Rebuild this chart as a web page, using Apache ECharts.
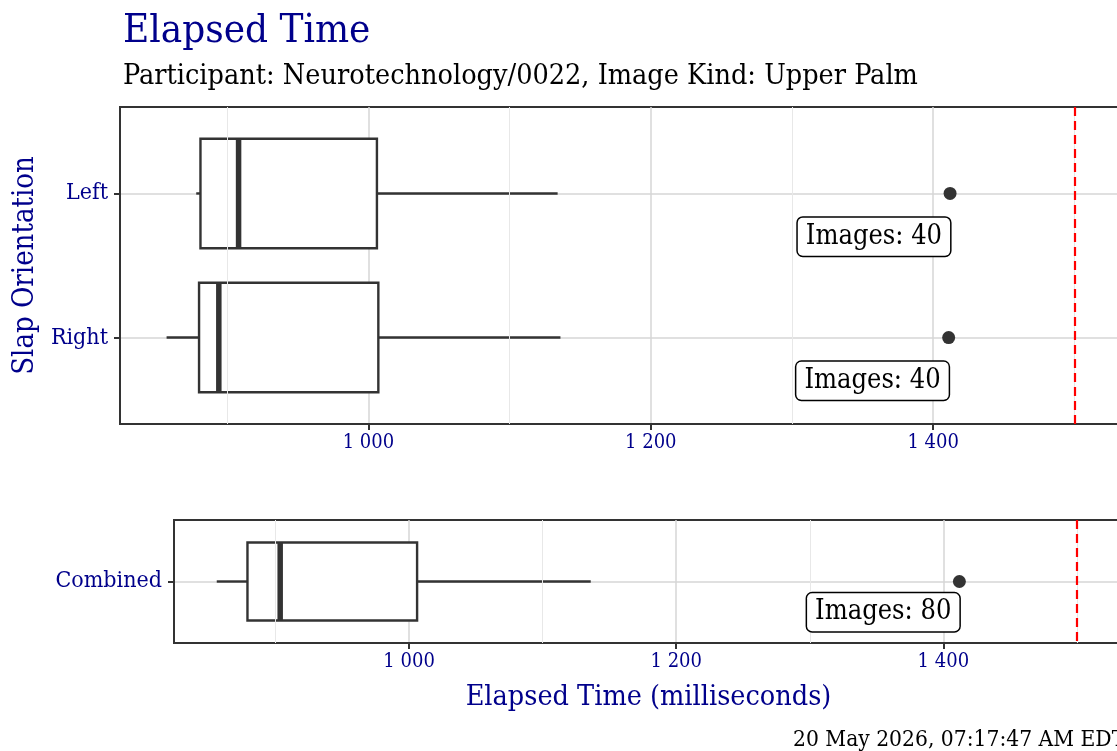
<!DOCTYPE html>
<html lang="en">
<head>
<meta charset="UTF-8">
<title>Elapsed Time</title>
<script src="https://cdn.jsdelivr.net/npm/echarts@6/dist/echarts.min.js"></script>
</head>
<body style="margin:0;background:#fff;overflow:hidden">
<!-- the panel runs a little past the right edge of the window, as in the original -->
<div id="container" style="width:1130px;height:751px"></div>
<script>
// data
const orientations = ['Left', 'Right'];
const combinedLabel = ['Combined'];
// lower whisker, Q1, median, Q3, upper whisker (ms)
const leftStats = [878, 881, 908, 1006, 1134];
const rightStats = [857, 880, 894, 1007, 1136];
const combinedStats = [856, 879, 903.5, 1006, 1136];
const leftOutliers = [1412];
const rightOutliers = [1411];
const combinedOutliers = [1412];
const imageCounts = [40, 40];
const combinedCount = [80];
const xTicks = [1000, 1200, 1400];
const xMinorTicks = [900, 1100, 1300, 1500];
const threshold = 1500;
const xMin = 824, xMax = 1534.5;

const FONT = "'DejaVu Serif Condensed', 'DejaVu Serif', serif";
const BLUE = '#00008B';
const INK = '#333333';

function fmt(v) {
    return String(v).replace(/\B(?=(\d{3})+(?!\d))/g, ' ');
}

function renderBox(params, api) {
    const y = api.value(0);
    const lo = api.coord([api.value(1), y]);
    const q1 = api.coord([api.value(2), y]);
    const med = api.coord([api.value(3), y]);
    const q3 = api.coord([api.value(4), y]);
    const hi = api.coord([api.value(5), y]);
    const h = Math.abs(api.size([0, 0.76])[1]);
    const top = lo[1] - h / 2;
    const stroke = {stroke: INK, lineWidth: 2.4};
    return {
        type: 'group',
        children: [
            {type: 'line', shape: {x1: lo[0], y1: lo[1], x2: q1[0], y2: lo[1]}, style: stroke},
            {type: 'line', shape: {x1: q3[0], y1: lo[1], x2: hi[0], y2: lo[1]}, style: stroke},
            {type: 'rect', shape: {x: q1[0], y: top, width: q3[0] - q1[0], height: h},
                style: {fill: '#fff', stroke: INK, lineWidth: 2.4}},
            {type: 'line', shape: {x1: med[0], y1: top, x2: med[0], y2: top + h},
                style: {stroke: INK, lineWidth: 5.5}}
        ]
    };
}

// one x/y axis pair per panel
function xAxisFor(gridIndex, withName) {
    return {
        type: 'value', gridIndex: gridIndex, min: xMin, max: xMax, splitNumber: 4,
        axisLine: {show: true, lineStyle: {color: INK, width: 2}},
        axisTick: {show: true, customValues: xTicks, length: 6, lineStyle: {color: INK, width: 2}},
        axisLabel: {customValues: xTicks, formatter: fmt, color: BLUE, fontFamily: FONT, fontSize: 20, margin: 9},
        splitLine: {show: true, lineStyle: {color: '#d6d6d6', width: 1.5}},
        name: withName ? 'Elapsed Time (milliseconds)' : '',
        nameLocation: 'middle', nameGap: 40,
        nameTextStyle: {color: BLUE, fontFamily: FONT, fontSize: 28.5}
    };
}

function yAxisFor(gridIndex, cats, withName) {
    const vals = cats.map((c, i) => i + 1);
    return {
        type: 'value', gridIndex: gridIndex, inverse: true,
        min: 0.4, max: cats.length + 0.6, splitNumber: cats.length,
        axisLine: {show: true, lineStyle: {color: INK, width: 2}},
        axisTick: {show: true, customValues: vals, length: 6, lineStyle: {color: INK, width: 2}},
        axisLabel: {customValues: vals, formatter: v => cats[Math.round(v) - 1], color: BLUE,
            fontFamily: FONT, fontSize: 23, margin: 12},
        splitLine: {show: true, lineStyle: {color: '#d6d6d6', width: 1.5}},
        name: withName ? 'Slap Orientation' : '',
        nameLocation: 'middle', nameRotate: 90, nameGap: 80,
        nameTextStyle: {color: BLUE, fontFamily: FONT, fontSize: 29}
    };
}

function panelSeries(idx, stats, outliers, counts) {
    const boxData = stats.map((s, i) => [i + 1].concat(s));
    const outData = [];
    outliers.forEach((o, i) => o.forEach(v => outData.push([v, i + 1])));
    const labelData = stats.map((s, i) => [Math.max(s[4], ...outliers[i]), i + 1.3, counts[i]]);
    return [
        {
            type: 'scatter', xAxisIndex: idx, yAxisIndex: idx, data: [], z: 1, silent: true,
            markLine: {
                silent: true, symbol: 'none', label: {show: false},
                lineStyle: {color: '#e8e8e8', width: 1, type: 'solid'},
                data: xMinorTicks.map(v => ({xAxis: v}))
            }
        },
        {
            type: 'custom', xAxisIndex: idx, yAxisIndex: idx, z: 3,
            renderItem: renderBox, encode: {x: [1, 2, 3, 4, 5], y: 0}, data: boxData
        },
        {
            type: 'scatter', xAxisIndex: idx, yAxisIndex: idx, z: 4,
            symbolSize: 13, itemStyle: {color: INK, opacity: 1}, data: outData
        },
        {
            type: 'scatter', xAxisIndex: idx, yAxisIndex: idx, z: 5, symbolSize: 0,
            itemStyle: {opacity: 1},
            data: labelData,
            label: {
                show: true, position: 'left', distance: 0,
                formatter: p => 'Images: ' + p.value[2],
                color: '#000', fontFamily: FONT, fontSize: 27,
                backgroundColor: '#fff', borderColor: '#000', borderWidth: 1.5, borderRadius: 5,
                padding: [6, 8, 5, 8]
            },
            markLine: {
                silent: true, symbol: 'none', label: {show: false},
                lineStyle: {color: '#ff0000', width: 2.2, type: [9, 5]},
                data: [{xAxis: threshold}]
            }
        }
    ];
}

const chart = echarts.init(document.getElementById('container'));
const option = {
    animation: false,
    title: [
        {text: 'Elapsed Time', left: 118, top: 7,
            textStyle: {color: BLUE, fontFamily: FONT, fontSize: 40, fontWeight: 'normal'}},
        {text: 'Participant: Neurotechnology/0022, Image Kind: Upper Palm', left: 118, top: 57,
            textStyle: {color: '#000', fontFamily: FONT, fontSize: 28.5, fontWeight: 'normal'}},
        {text: '20 May 2026, 07:17:47 AM EDT', left: 788, top: 724,
            textStyle: {color: '#000', fontFamily: FONT, fontSize: 22.6, fontWeight: 'normal'}}
    ],
    grid: [
        {left: 120, top: 107, right: 7, height: 317, outerBoundsMode: 'none',
            show: true, borderColor: INK, borderWidth: 2},
        {left: 174, top: 520, right: 7, height: 123, outerBoundsMode: 'none',
            show: true, borderColor: INK, borderWidth: 2}
    ],
    xAxis: [xAxisFor(0, false), xAxisFor(1, true)],
    yAxis: [yAxisFor(0, orientations, true), yAxisFor(1, combinedLabel, false)],
    series: panelSeries(0, [leftStats, rightStats], [leftOutliers, rightOutliers], imageCounts)
        .concat(panelSeries(1, [combinedStats], [combinedOutliers], combinedCount))
};
chart.setOption(option);
</script>
</body>
</html>
